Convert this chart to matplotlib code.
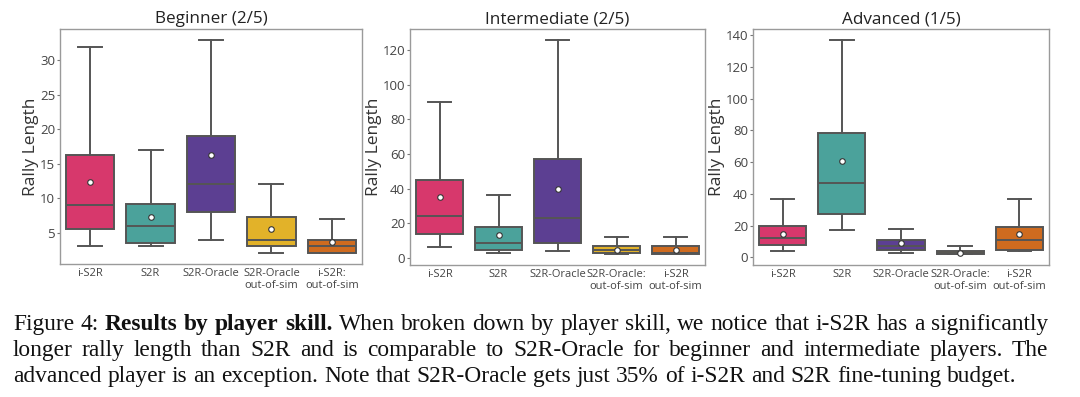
import matplotlib
matplotlib.use('Agg')
import matplotlib.pyplot as plt
from matplotlib.transforms import IdentityTransform

# categories and labels
methods = ['i-S2R', 'S2R', 'S2R-Oracle', 'S2R-Oracle oos', 'i-S2R oos']
beg_labels = ['i-S2R', 'S2R', 'S2R-Oracle', 'S2R-Oracle\nout-of-sim', 'i-S2R:\nout-of-sim']
int_labels = ['i-S2R', 'S2R', 'S2R-Oracle', 'S2R-Oracle:\nout-of-sim', 'i-S2R\nout-of-sim']
adv_labels = ['i-S2R', 'S2R', 'S2R-Oracle', 'S2R-Oracle:\nout-of-sim', 'i-S2R\nout-of-sim']
colors = ['#D7386C', '#4BA29B', '#5C3F92', '#E2B229', '#CF6B1F']

# Beginner (2/5)
beg_low = [3, 3, 4, 2, 2]
beg_q1 = [5.6, 3.5, 8, 3, 2]
beg_med = [9, 6, 12, 4, 3]
beg_q3 = [16.2, 9.2, 19, 7.2, 4]
beg_high = [32, 17, 33, 12, 7]
beg_mean = [12.3, 7.2, 16.3, 5.5, 3.6]

# Intermediate (2/5)
int_low = [6, 3, 4, 2, 2]
int_q1 = [14, 4.4, 8.4, 2.5, 2]
int_med = [24, 8.4, 23, 4.4, 3]
int_q3 = [45, 17.7, 57, 6.5, 6.5]
int_high = [90, 36, 126, 12, 12]
int_mean = [35.3, 13, 39.5, 4.6, 4.5]

# Advanced (1/5)
adv_low = [4, 17, 3, 2, 4]
adv_q1 = [8, 27.5, 5, 2, 5]
adv_med = [12.3, 47, 7, 3, 11]
adv_q3 = [20, 78.5, 11, 4.2, 19]
adv_high = [37, 137, 18, 7, 37]
adv_mean = [14.8, 60.4, 8.8, 3.1, 14.7]

panels = [
    ('Beginner (2/5)', beg_labels, beg_low, beg_q1, beg_med, beg_q3, beg_high, beg_mean, [5, 10, 15, 20, 25, 30]),
    ('Intermediate (2/5)', int_labels, int_low, int_q1, int_med, int_q3, int_high, int_mean, [0, 20, 40, 60, 80, 100, 120]),
    ('Advanced (1/5)', adv_labels, adv_low, adv_q1, adv_med, adv_q3, adv_high, adv_mean, [0, 20, 40, 60, 80, 100, 120, 140]),
]
positions = [
    [60 / 1080, 1 - 264 / 397, 302 / 1080, 235 / 397],
    [410 / 1080, 1 - 265 / 397, 295 / 1080, 236 / 397],
    [753 / 1080, 1 - 265 / 397, 296 / 1080, 236 / 397],
]

sans = ['Open Sans', 'DejaVu Sans']
fig = plt.figure(figsize=(10.8, 3.97), dpi=100)
edge = '#555555'

for (title, labels, lo, q1, med, q3, hi, mean, yt), pos in zip(panels, positions):
    ax = fig.add_axes(pos)
    stats = []
    for i in range(len(methods)):
        stats.append(dict(whislo=lo[i], q1=q1[i], med=med[i], q3=q3[i], whishi=hi[i],
                          mean=mean[i], fliers=[], label=labels[i]))
    bp = ax.bxp(stats, positions=range(len(methods)), widths=0.8, patch_artist=True,
                showmeans=True,
                boxprops=dict(edgecolor=edge, linewidth=1.4),
                whiskerprops=dict(color=edge, linewidth=1.4),
                capprops=dict(color=edge, linewidth=1.4),
                medianprops=dict(color=edge, linewidth=1.4),
                meanprops=dict(marker='o', markerfacecolor='white', markeredgecolor='#333333',
                               markersize=4, markeredgewidth=0.8),
                capwidths=0.4)
    for patch, c in zip(bp['boxes'], colors):
        patch.set_facecolor(c)
    ax.set_xlim(-0.5, 4.5)
    ax.set_yticks(yt)
    ax.set_title(title, fontsize=12.3, family=sans, color='#222222', pad=4)
    ax.set_ylabel('Rally Length', fontsize=12.5, family=sans, color='#333333', labelpad=0.5)
    ax.tick_params(axis='y', length=2.5, width=0.8, color='#777777', pad=1,
                   labelsize=9.5, labelcolor='#444444')
    ax.tick_params(axis='x', length=0, pad=3, labelsize=8, labelcolor='#444444')
    for lab in ax.get_xticklabels() + ax.get_yticklabels():
        lab.set_family(sans)
        lab.set_linespacing(1.05)
    for sp in ax.spines.values():
        sp.set_color('#9a9a9a')
        sp.set_linewidth(1.0)

# caption, justified line by line
cap_lines = [
    [('Figure', False), ('4:', False), ('Results', True), ('by', True), ('player', True), ('skill.', True),
     ('When', False), ('broken', False), ('down', False), ('by', False), ('player', False), ('skill,', False),
     ('we', False), ('notice', False), ('that', False), ('i-S2R', False), ('has', False), ('a', False),
     ('significantly', False)],
    [(w, False) for w in 'longer rally length than S2R and is comparable to S2R-Oracle for beginner and intermediate players.  The'.split(' ')],
    [(w, False) for w in 'advanced player is an exception. Note that S2R-Oracle gets just 35% of i-S2R and S2R fine-tuning budget.'.split(' ')],
]
cap_base = [330, 356, 382]
x_left, x_right = 13, 1048
serif = ['Liberation Serif', 'DejaVu Serif']
cap_size = 16.8

fig.canvas.draw()
r = fig.canvas.get_renderer()
H = 397

def text_width(s, bold=False):
    t = fig.text(0, 0, s, fontsize=cap_size, family=serif, weight='bold' if bold else 'normal')
    w = t.get_window_extent(renderer=r).width
    t.remove()
    return w

space_w = text_width('a a') - text_width('aa')

for k, (words, yb) in enumerate(zip(cap_lines, cap_base)):
    words = [w for w in words if w[0] != '']
    widths = [text_width(w, b) for w, b in words]
    if k < len(cap_lines) - 1:
        gap = (x_right - x_left - sum(widths)) / (len(words) - 1)
    else:
        gap = space_w
    x = x_left
    for (w, b), wd in zip(words, widths):
        fig.text(x, H - yb, w, fontsize=cap_size, family=serif, weight='bold' if b else 'normal',
                 color='#111111', va='baseline', ha='left', transform=IdentityTransform())
        x += wd + gap

fig.savefig('out.png', dpi=100)
